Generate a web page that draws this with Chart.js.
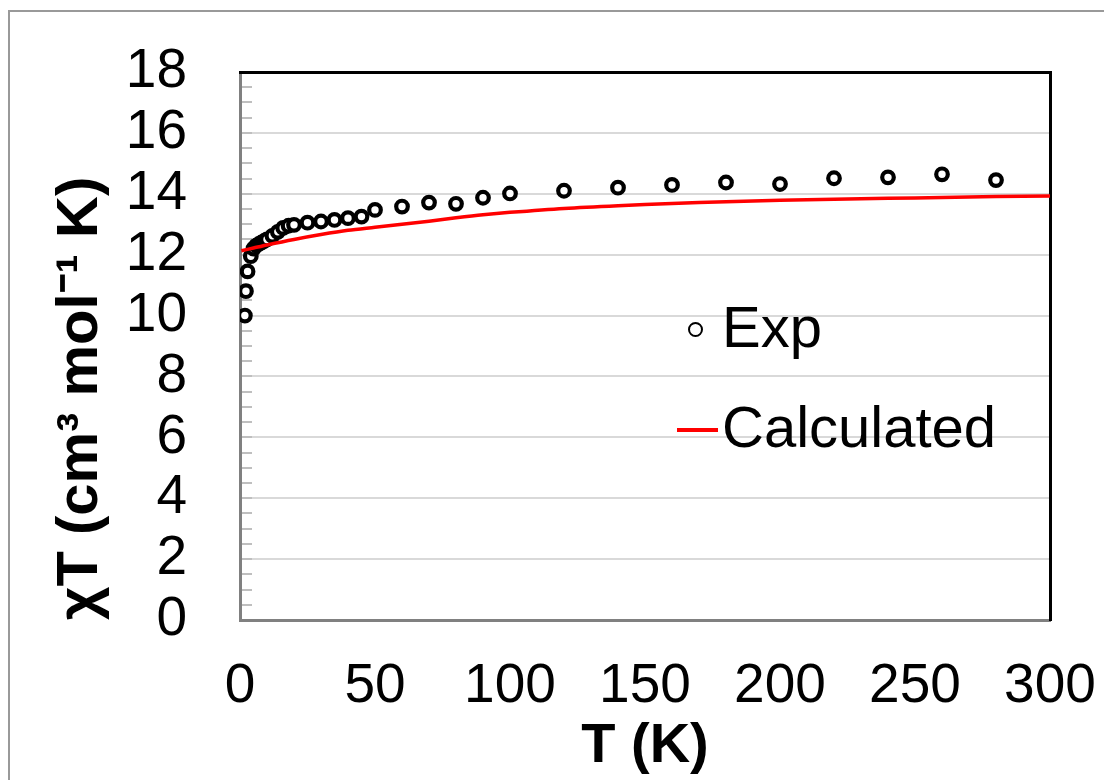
<!DOCTYPE html>
<html>
<head>
<meta charset="utf-8">
<script src="https://cdn.jsdelivr.net/npm/chart.js@4/dist/chart.umd.min.js"></script>
<style>
  body { margin: 0; background: #fff; overflow: hidden; font-family: "Liberation Sans", Arial, sans-serif; }
  #wrap { position: relative; width: 1104px; height: 780px; }
  #frame { position: absolute; left: 8px; top: 10px; width: 1200px; height: 900px; border: 2px solid #999; }
  canvas { position: absolute; left: 0; top: 0; }
  .leg { position: absolute; font-size: 58px; line-height: 58px; color: #000; white-space: nowrap; }
  #mkExp { position: absolute; left: 688px; top: 322px; width: 11px; height: 11px; border: 2.5px solid #000; border-radius: 50%; }
  #mkCalc { position: absolute; left: 677px; top: 428px; width: 41px; height: 4px; background: #ff0000; }
</style>
</head>
<body>
<div id="wrap">
  <div id="frame"></div>
  <canvas id="grafico" width="1104" height="780"></canvas>
  <div id="mkExp"></div>
  <div class="leg" style="left:722px; top:298px;">Exp</div>
  <div id="mkCalc"></div>
  <div class="leg" style="left:722px; top:398px;">Calculated</div>
</div>
<script>
// experimental points
const tempExp = [1.8, 2.2, 2.8, 4, 5, 6, 7, 8, 9, 10, 12, 14, 16, 18, 20, 25, 30, 35, 40, 45,
  50, 60, 70, 80, 90, 100, 120, 140, 160, 180, 200, 220, 240, 260, 280];
const chiTExp = [10.0, 10.8, 11.45, 11.95, 12.2, 12.3, 12.35, 12.4, 12.45, 12.5, 12.62, 12.75, 12.88, 12.95, 12.98, 13.05, 13.09, 13.14, 13.2, 13.25,
  13.47, 13.58, 13.71, 13.67, 13.87, 14.01, 14.1, 14.2, 14.29, 14.37, 14.32, 14.51, 14.54, 14.64, 14.45];

// calculated curve
const tempCalc = [0.5, 5, 10, 20, 30, 40, 50, 60, 70, 80, 90, 100, 120, 140, 160, 180, 200, 220, 240, 260, 280, 300];
const chiTCalc = [12.13, 12.22, 12.32, 12.5, 12.66, 12.8, 12.9, 13.0, 13.1, 13.21, 13.31, 13.39, 13.52, 13.61, 13.68, 13.74, 13.79, 13.82, 13.85, 13.88, 13.91, 13.93];

const xTicks = [0, 50, 100, 150, 200, 250, 300];
const yMajor = [0, 2, 4, 6, 8, 10, 12, 14, 16, 18];

const fonte = '"Liberation Sans", Arial, sans-serif';

const pares = (xs, ys) => xs.map((x, i) => ({ x: x, y: ys[i] }));

// no extra room for the end labels, the chart area is set by layout.padding
function semPadding(s) {
  s.paddingTop = 0; s.paddingBottom = 0; s.paddingLeft = 0; s.paddingRight = 0;
}

const ctx = document.getElementById('grafico').getContext('2d');
const grafico = new Chart(ctx, {
  type: 'scatter',
  data: {
    datasets: [{
      label: 'Calculated',
      data: pares(tempCalc, chiTCalc),
      showLine: true,
      borderColor: '#ff0000',
      borderWidth: 3.5,
      pointRadius: 0,
      tension: 0.3
    }, {
      label: 'Exp',
      data: pares(tempExp, chiTExp),
      pointStyle: 'circle',
      pointRadius: 5.8,
      pointBorderWidth: 4.2,
      pointBorderColor: '#000',
      pointBackgroundColor: '#fff'
    }]
  },
  options: {
    responsive: false,
    animation: false,
    layout: { padding: { left: 0, top: 72, right: 54, bottom: 0 }, autoPadding: false },
    plugins: {
      legend: { display: false },
      tooltip: { enabled: false }
    },
    scales: {
      x: {
        type: 'linear',
        position: 'bottom',
        min: 0,
        max: 300,
        afterBuildTicks: s => { s.ticks = xTicks.map(v => ({ value: v })); },
        grid: { display: false, drawTicks: false, tickLength: 0 },
        border: { display: true, color: '#808080', width: 3 },
        ticks: {
          padding: 34,
          color: '#000',
          maxRotation: 0,
          font: { family: fonte, size: 55 }
        },
        title: {
          display: true,
          text: 'T (K)',
          color: '#000',
          padding: { top: 0, bottom: 0 },
          font: { family: fonte, size: 56, weight: 'bold' }
        },
        afterFit: s => { s.height = 160; semPadding(s); }
      },
      y: {
        type: 'linear',
        position: 'left',
        min: 0,
        max: 18,
        grid: {
          display: true,
          drawOnChartArea: true,
          drawTicks: true,
          tickLength: -12,
          tickWidth: 2,
          tickColor: '#bfbfbf',
          lineWidth: 2,
          color: c => (yMajor.includes(c.tick.value) ? '#d9d9d9' : 'rgba(0,0,0,0)')
        },
        border: { display: true, color: '#808080', width: 3 },
        ticks: {
          stepSize: 0.5,
          autoSkip: false,
          padding: 65,
          color: '#000',
          font: { family: fonte, size: 55 },
          callback: v => (yMajor.includes(v) ? String(v) : '')
        },
        title: {
          display: true,
          align: 'start',
          text: 'χT (cm³ mol⁻¹ K)',
          color: '#000',
          padding: { top: 46, bottom: 0 },
          font: { family: fonte, size: 58, weight: 'bold' }
        },
        afterFit: s => { s.width = 240; semPadding(s); }
      },
      xTopo: {
        type: 'linear',
        position: 'top',
        min: 0,
        max: 300,
        grid: { display: false, drawTicks: false },
        border: { display: true, color: '#000', width: 3 },
        ticks: { display: false },
        afterFit: s => { s.height = 0; semPadding(s); }
      },
      yDir: {
        type: 'linear',
        position: 'right',
        min: 0,
        max: 18,
        grid: { display: false, drawTicks: false },
        border: { display: true, color: '#000', width: 3 },
        ticks: { display: false },
        afterFit: s => { s.width = 0; semPadding(s); }
      }
    }
  }
});
</script>
</body>
</html>
